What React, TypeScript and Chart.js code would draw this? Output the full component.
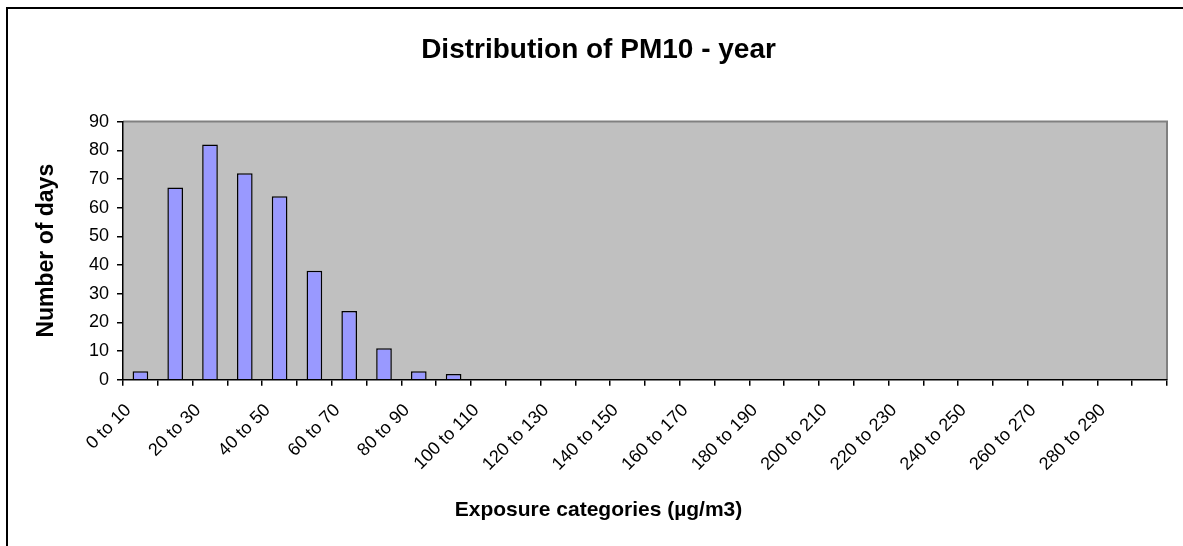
import React, { useEffect, useRef } from "react";
import { Chart, registerables } from "chart.js";

Chart.register(...registerables);

const categories: string[] = [
  "0 to 10", "10 to 20", "20 to 30", "30 to 40", "40 to 50", "50 to 60",
  "60 to 70", "70 to 80", "80 to 90", "90 to 100", "100 to 110", "110 to 120",
  "120 to 130", "130 to 140", "140 to 150", "150 to 160", "160 to 170", "170 to 180",
  "180 to 190", "190 to 200", "200 to 210", "210 to 220", "220 to 230", "230 to 240",
  "240 to 250", "250 to 260", "260 to 270", "270 to 280", "280 to 290", "290 to 300",
];

const days: number[] = [
  3, 67, 82, 72, 64, 38, 24, 11, 3, 2,
  0, 0, 0, 0, 0, 0, 0, 0, 0, 0,
  0, 0, 0, 0, 0, 0, 0, 0, 0, 0,
];

const yTicks: number[] = [0, 10, 20, 30, 40, 50, 60, 70, 80, 90];

const plotBg = {
  id: "plotBg",
  beforeDraw(chart: any) {
    const { ctx, chartArea } = chart;
    if (!chartArea) return;
    ctx.save();
    ctx.fillStyle = "#C0C0C0";
    ctx.fillRect(chartArea.left, chartArea.top, chartArea.right - chartArea.left, chartArea.bottom - chartArea.top);
    ctx.strokeStyle = "#808080";
    ctx.lineWidth = 2;
    ctx.beginPath();
    ctx.moveTo(chartArea.left, chartArea.top);
    ctx.lineTo(chartArea.right, chartArea.top);
    ctx.lineTo(chartArea.right, chartArea.bottom);
    ctx.stroke();
    ctx.restore();
  },
};

export default function App() {
  const ref = useRef<HTMLCanvasElement | null>(null);

  useEffect(() => {
    if (!ref.current) return;
    const font = "'Liberation Sans', Arial, sans-serif";
    const chart = new Chart(ref.current, {
      type: "bar",
      data: {
        labels: categories,
        datasets: [
          {
            label: "Number of days",
            data: days,
            backgroundColor: "#9999FF",
            borderColor: "#000000",
            borderWidth: 1.5,
            barPercentage: 0.45,
            categoryPercentage: 1,
          },
        ],
      },
      options: {
        responsive: false,
        animation: false,
        layout: { padding: { left: 30, right: 16, top: 0, bottom: 0 } },
        plugins: {
          legend: { display: false },
          tooltip: { enabled: false },
          title: {
            display: true,
            text: "Distribution of PM10 - year",
            color: "#000",
            font: { family: font, size: 28, weight: "bold" },
            padding: { top: 33, bottom: 55 },
          },
          subtitle: {
            display: true,
            position: "bottom",
            text: "Exposure categories (µg/m3)",
            color: "#000",
            font: { family: font, size: 21, weight: "bold" },
            padding: { top: 0, bottom: 23 },
          },
        },
        scales: {
          x: {
            offset: true,
            grid: {
              offset: true,
              drawOnChartArea: false,
              drawTicks: true,
              tickLength: 6,
              color: "#000",
              lineWidth: 1.5,
            },
            border: { display: true, color: "#000", width: 1.5 },
            ticks: {
              autoSkip: false,
              maxRotation: 45,
              minRotation: 45,
              padding: 14,
              labelOffset: -12,
              color: "#000",
              font: { family: font, size: 18 },
              callback: (_v: any, i: number) => (i % 2 === 0 ? categories[i] : ""),
            },
            afterFit: (scale: any) => {
              scale.height = 118;
            },
          },
          y: {
            min: 0,
            max: 90,
            afterBuildTicks: (scale: any) => {
              scale.ticks = yTicks.map((v) => ({ value: v }));
            },
            grid: {
              drawOnChartArea: false,
              drawTicks: true,
              tickLength: 6,
              color: "#000",
              lineWidth: 1.5,
            },
            border: { display: true, color: "#000", width: 1.5 },
            ticks: {
              padding: 8,
              color: "#000",
              font: { family: font, size: 18 },
            },
            title: {
              display: true,
              text: "Number of days",
              color: "#000",
              font: { family: font, size: 23, weight: "bold" },
              padding: { top: 3, bottom: 0 },
            },
            afterFit: (scale: any) => {
              scale.width = 93;
            },
          },
        },
      },
      plugins: [plotBg],
    });
    return () => chart.destroy();
  }, []);

  return (
    <div style={{ position: "absolute", left: 0, top: 0, width: 1183, height: 546, background: "#fff", overflow: "hidden" }}>
      <div
        style={{
          position: "absolute",
          left: 6,
          top: 7,
          width: 1300,
          height: 700,
          borderLeft: "2px solid #000",
          borderTop: "2px solid #000",
        }}
      />
      <canvas ref={ref} width={1183} height={546} style={{ position: "absolute", left: 0, top: 0 }} />
    </div>
  );
}
